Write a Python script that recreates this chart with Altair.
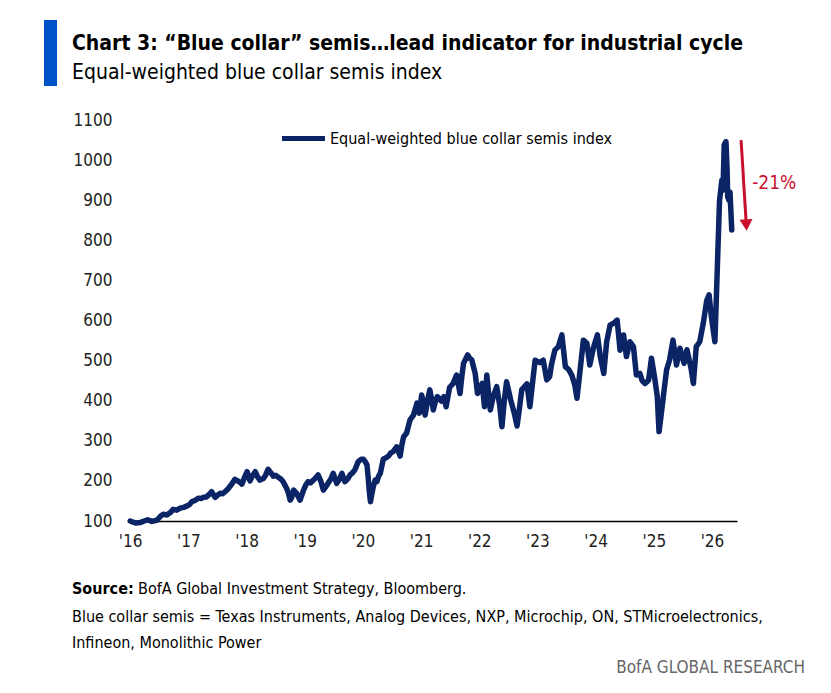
import altair as alt
import pandas as pd

# index level (fractional year, index value)
years = [
    2016.00, 2016.05, 2016.10, 2016.17, 2016.24, 2016.30, 2016.37, 2016.46, 2016.52, 2016.57,
    2016.63, 2016.69, 2016.74, 2016.80, 2016.86, 2016.92, 2016.97, 2017.02, 2017.06, 2017.12,
    2017.17, 2017.22, 2017.26, 2017.31, 2017.35, 2017.40, 2017.46, 2017.50, 2017.55, 2017.59,
    2017.63, 2017.68, 2017.72, 2017.76, 2017.80, 2017.85, 2017.89, 2017.92, 2017.97, 2018.01,
    2018.06, 2018.10, 2018.15, 2018.19, 2018.23, 2018.29, 2018.33, 2018.37, 2018.42, 2018.46,
    2018.50, 2018.54, 2018.59, 2018.63, 2018.69, 2018.72, 2018.75, 2018.78, 2018.81, 2018.86,
    2018.92, 2018.98, 2019.02, 2019.06, 2019.10, 2019.15, 2019.19, 2019.23, 2019.28, 2019.32,
    2019.36, 2019.40, 2019.45, 2019.49, 2019.55, 2019.60, 2019.64, 2019.69, 2019.74, 2019.78,
    2019.82, 2019.86, 2019.92, 2019.97, 2020.01, 2020.04, 2020.07, 2020.09, 2020.11, 2020.13,
    2020.15, 2020.18, 2020.21, 2020.24, 2020.27, 2020.30, 2020.35, 2020.40, 2020.44, 2020.48,
    2020.52, 2020.58, 2020.64, 2020.67, 2020.70, 2020.75, 2020.81, 2020.87, 2020.93, 2020.97,
    2021.01, 2021.04, 2021.07, 2021.11, 2021.15, 2021.18, 2021.21, 2021.25, 2021.28, 2021.35,
    2021.39, 2021.43, 2021.49, 2021.55, 2021.61, 2021.67, 2021.70, 2021.73, 2021.80, 2021.84,
    2021.87, 2021.93, 2021.97, 2022.01, 2022.05, 2022.09, 2022.13, 2022.16, 2022.19, 2022.24,
    2022.30, 2022.35, 2022.39, 2022.43, 2022.47, 2022.54, 2022.60, 2022.65, 2022.69, 2022.73,
    2022.82, 2022.87, 2022.92, 2022.96, 2023.04, 2023.10, 2023.16, 2023.21, 2023.24, 2023.30,
    2023.36, 2023.42, 2023.48, 2023.54, 2023.59, 2023.64, 2023.68, 2023.73, 2023.79, 2023.85,
    2023.90, 2023.96, 2024.03, 2024.08, 2024.14, 2024.19, 2024.25, 2024.31, 2024.37, 2024.42,
    2024.48, 2024.53, 2024.59, 2024.65, 2024.70, 2024.76, 2024.80, 2024.85, 2024.91, 2024.96,
    2025.02, 2025.06, 2025.09, 2025.13, 2025.17, 2025.22, 2025.27, 2025.33, 2025.39, 2025.45,
    2025.52, 2025.57, 2025.64, 2025.68, 2025.73, 2025.79, 2025.85, 2025.91, 2025.95, 2025.99,
    2026.05, 2026.07, 2026.10, 2026.13, 2026.17, 2026.19, 2026.21, 2026.24, 2026.26, 2026.27,
    2026.29, 2026.31, 2026.34,
]
index_values = [
    100, 97, 95, 96, 100, 103, 99, 102, 112, 117,
    115, 121, 129, 127, 132, 134, 137, 141, 148, 152,
    157, 156, 159, 160, 165, 173, 159, 164, 169, 168,
    173, 180, 187, 195, 204, 200, 196, 192, 210, 223,
    200, 212, 223, 210, 202, 206, 215, 229, 220, 212,
    214, 210, 205, 198, 181, 170, 152, 160, 177, 169,
    152, 177, 190, 198, 195, 202, 208, 215, 198, 177,
    185, 194, 205, 219, 194, 205, 219, 198, 205, 215,
    220, 227, 248, 254, 254, 248, 240, 210, 175, 148,
    165, 186, 202, 198, 212, 219, 254, 258, 262, 270,
    273, 285, 262, 290, 310, 319, 352, 364, 394, 369,
    414, 395, 364, 400, 427, 405, 377, 400, 410, 399,
    410, 385, 433, 443, 464, 418, 460, 493, 514, 505,
    502, 468, 418, 430, 443, 385, 464, 420, 377, 410,
    435, 390, 335, 400, 447, 402, 370, 337, 380, 427,
    442, 385, 450, 501, 495, 501, 452, 460, 489, 526,
    535, 564, 485, 477, 464, 440, 406, 472, 551, 543,
    489, 531, 564, 510, 468, 547, 589, 593, 601, 526,
    564, 510, 547, 535, 464, 468, 450, 443, 451, 506,
    452, 410, 323, 369, 418, 477, 501, 551, 489, 531,
    493, 527, 481, 443, 535, 547, 593, 650, 664, 609,
    547, 634, 768, 900, 950, 925, 1038, 1046, 975, 909,
    900, 920, 826,
]
series_name = 'Equal-weighted blue collar semis index'

tick_years = list(range(2016, 2027))
y_ticks = list(range(100, 1200, 100))

# peak-to-now drawdown arrow (data space)
arrow_x = [2026.50]
arrow_x2 = [2026.585]
arrow_y = [1050]
arrow_y2 = [850]
arrow_head_x = [2026.59]
arrow_head_y = [838]
drawdown_label = ['-21%']
drawdown_x = [2026.69]
drawdown_y = [943]

NAVY = '#0a2466'
BLUE = '#0052c8'
RED = '#c8102e'
FONT = 'Liberation Sans Narrow, DejaVu Sans Condensed, Open Sans, sans-serif'

df = pd.DataFrame({'year': years, 'value': index_values, 'series': series_name})

x_scale = alt.Scale(domain=[2015.98, 2026.43], nice=False, zero=False)
y_scale = alt.Scale(domain=[100, 1100], nice=False, zero=False)

line = alt.Chart(df).mark_line(strokeWidth=5.5, strokeJoin='round', strokeCap='round').encode(
    x=alt.X('year:Q', scale=x_scale,
            axis=alt.Axis(values=tick_years, title=None, ticks=False, grid=False,
                          domainColor='black', domainWidth=1.5, labelPadding=12,
                          labelExpr="\"'\" + slice(toString(datum.value), 2)")),
    y=alt.Y('value:Q', scale=y_scale,
            axis=alt.Axis(values=y_ticks, title=None, ticks=False, grid=False,
                          domain=False, labelPadding=17, format='d')),
    color=alt.Color('series:N', scale=alt.Scale(domain=[series_name], range=[NAVY]),
                    legend=alt.Legend(orient='none', legendX=150, legendY=-6, title=None,
                                      symbolType='stroke', symbolStrokeWidth=5,
                                      symbolSize=1850, labelFontSize=16, labelFont=FONT,
                                      labelColor='black', labelOffset=2, padding=0,
                                      labelLimit=0)),
)

arrow_df = pd.DataFrame({'x': arrow_x, 'x2': arrow_x2, 'y': arrow_y, 'y2': arrow_y2})
arrow = alt.Chart(arrow_df).mark_rule(color=RED, strokeWidth=3).encode(
    x=alt.X('x:Q', scale=x_scale), x2='x2:Q',
    y=alt.Y('y:Q', scale=y_scale), y2='y2:Q')

head_df = pd.DataFrame({'x': arrow_head_x, 'y': arrow_head_y})
head = alt.Chart(head_df).mark_point(shape='triangle-down', filled=True, color=RED,
                                     size=170, opacity=1, angle=357).encode(
    x=alt.X('x:Q', scale=x_scale), y=alt.Y('y:Q', scale=y_scale))

pct_df = pd.DataFrame({'x': drawdown_x, 'y': drawdown_y, 't': drawdown_label})
pct = alt.Chart(pct_df).mark_text(align='left', baseline='middle', fontSize=19,
                                  color=RED, font=FONT).encode(
    x=alt.X('x:Q', scale=x_scale), y=alt.Y('y:Q', scale=y_scale), text='t:N')


def label(text, x, y, size, weight='normal', color='black', align='left'):
    return alt.Chart(pd.DataFrame({'t': [text]})).mark_text(
        align=align, baseline='alphabetic', fontSize=size, fontWeight=weight,
        color=color, font=FONT).encode(x=alt.value(x), y=alt.value(y), text='t:N')


bar = alt.Chart(pd.DataFrame({'a': [0]})).mark_rect(color=BLUE).encode(
    x=alt.value(-85), x2=alt.value(-72), y=alt.value(-100), y2=alt.value(-34))

title = label('Chart 3: \u201cBlue collar\u201d semis\u2026lead indicator for industrial cycle',
              -57, -70, 21, weight='bold')
subtitle = label('Equal-weighted blue collar semis index', -57, -41, 21)
source_b = label('Source:', -57, 474, 16, weight='bold')
source = label('BofA Global Investment Strategy, Bloomberg.', 9, 474, 16)
note1 = label('Blue collar semis = Texas Instruments, Analog Devices, NXP, Microchip, ON, '
              'STMicroelectronics,', -57, 502, 16)
note2 = label('Infineon, Monolithic Power', -57, 528, 16)
brand = label('BofA GLOBAL RESEARCH', 676, 553, 17, color='#666666', align='right')

chart = alt.layer(line, arrow, head, pct, bar, title, subtitle,
                  source_b, source, note1, note2, brand).properties(
    width=608, height=401,
    autosize=alt.AutoSizeParams(type='none'),
    padding={'left': 121, 'top': 112, 'right': 80, 'bottom': 155},
).configure_view(stroke=None).configure_axis(
    labelFont=FONT, labelFontSize=17, labelColor='#222222'
)

chart.save('out.html', embed_options={'renderer': 'svg', 'actions': False})
